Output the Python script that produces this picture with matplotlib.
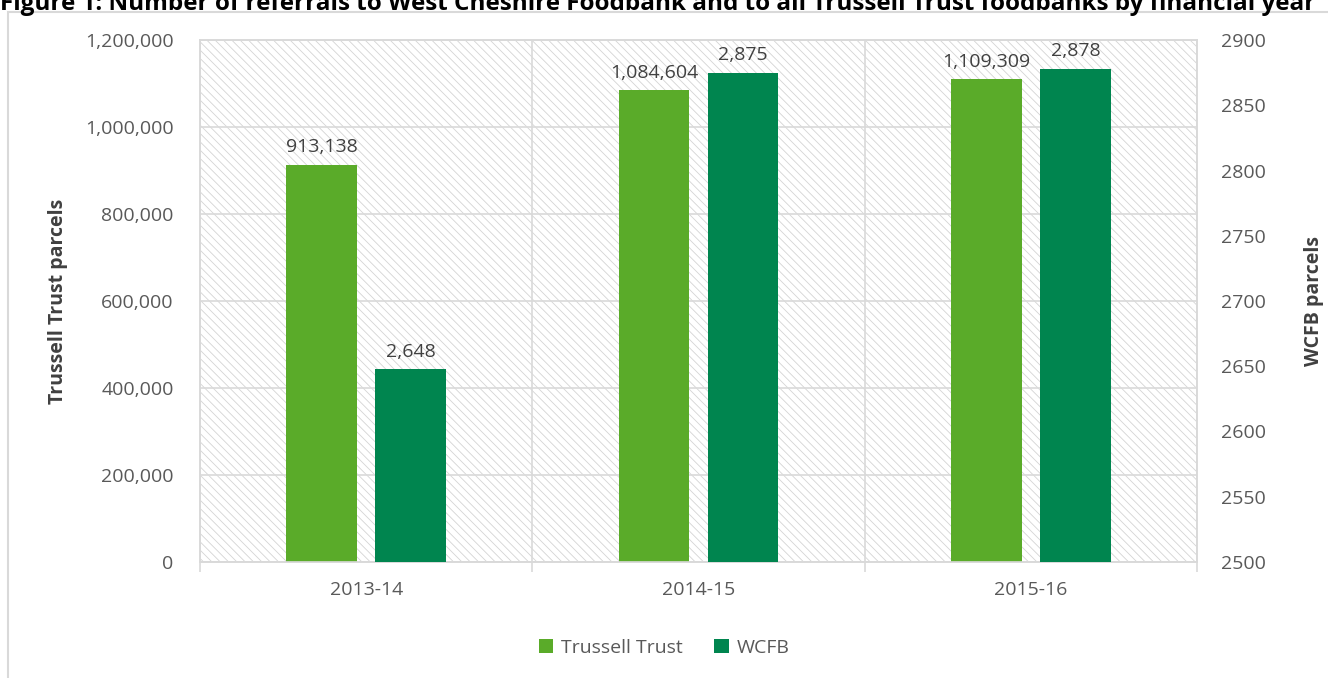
import numpy as np
import matplotlib
matplotlib.use('Agg')
import matplotlib.pyplot as plt
from matplotlib.patches import Rectangle
from matplotlib.ticker import FuncFormatter, MultipleLocator

plt.rcParams['font.family'] = ['Open Sans', 'DejaVu Sans']
plt.rcParams['hatch.linewidth'] = 0.6

years = ['2013-14', '2014-15', '2015-16']
trussell = [913138, 1084604, 1109309]
wcfb = [2648, 2875, 2878]
series_names = ['Trussell Trust', 'WCFB']

c_tt = '#5aab29'
c_wc = '#00854f'
txt = '#595959'
grid = '#d9d9d9'

fig = plt.figure(figsize=(13.28, 6.78), dpi=100)

# outer chart border (partly cut off, as in the source)
fig.add_artist(Rectangle((8/1328, -0.1), 2, (678-12)/678 + 0.1, transform=fig.transFigure,
                         fill=False, edgecolor='#d9d9d9', linewidth=1.5))

fig.text(0.0, 1 - 10/678, 'Figure 1: Number of referrals to West Cheshire Foodbank and to all '
         'Trussell Trust foodbanks by financial year',
         fontsize=17.5, fontweight='bold', color='black', va='baseline', ha='left')

ax = fig.add_axes([200/1328, 1 - 562/678, 997/1328, 522/678])
ax2 = ax.twinx()

# hatched plot background
ax.add_patch(Rectangle((0, 0), 1, 1, transform=ax.transAxes, facecolor='white',
                       edgecolor='#d4d4d4', hatch='\\\\\\\\', linewidth=0, zorder=0))

x = np.arange(len(years))
w = 0.212
off = 0.134
b1 = ax.bar(x - off, trussell, w, color=c_tt, zorder=3, label=series_names[0])
b2 = ax2.bar(x + off, wcfb, w, color=c_wc, zorder=3, label=series_names[1])

ax.set_xlim(-0.5, 2.5)
ax.set_ylim(0, 1200000)
ax2.set_ylim(2500, 2900)
ax.yaxis.set_major_locator(MultipleLocator(200000))
ax2.yaxis.set_major_locator(MultipleLocator(50))
ax.yaxis.set_major_formatter(FuncFormatter(lambda v, p: f'{int(v):,}'))

ax.set_xticks(x)
ax.set_xticklabels(years)
ax.set_xticks([-0.5, 0.5, 1.5, 2.5], minor=True)
ax.tick_params(axis='x', which='major', length=0, pad=14, labelsize=14, labelcolor=txt)
ax.tick_params(axis='x', which='minor', length=7, color=grid, width=1.2)
ax.tick_params(axis='y', length=0, pad=19, labelsize=14, labelcolor=txt)
ax2.tick_params(axis='y', length=0, pad=17, labelsize=14, labelcolor=txt)

ax.grid(axis='y', color=grid, linewidth=1.2, zorder=1)
ax.grid(axis='x', which='minor', color=grid, linewidth=1.2, zorder=1)
ax.set_axisbelow(True)

for a in (ax, ax2):
    for s in a.spines.values():
        s.set_color(grid)
        s.set_linewidth(1.2)

ax.set_ylabel('Trussell Trust parcels', fontsize=14, fontweight='bold', color='#404040', labelpad=12)
ax2.set_ylabel('WCFB parcels', fontsize=14, fontweight='bold', color='#404040', labelpad=28)

for r, v in zip(b1, trussell):
    ax.annotate(f'{v:,}', (r.get_x() + r.get_width()/2, v), xytext=(0, 6),
                textcoords='offset points', ha='center', va='bottom', fontsize=14, color='#404040')
for r, v in zip(b2, wcfb):
    ax2.annotate(f'{v:,}', (r.get_x() + r.get_width()/2, v), xytext=(0, 6),
                 textcoords='offset points', ha='center', va='bottom', fontsize=14, color='#404040')

fig.legend([b1, b2], series_names, loc='center', bbox_to_anchor=(0.5, 1 - 648/678), ncol=2,
           frameon=False, fontsize=14, labelcolor=txt, handlelength=0.75, handleheight=0.75,
           handletextpad=0.4, columnspacing=1.6)

fig.savefig('out.png', dpi=100)
